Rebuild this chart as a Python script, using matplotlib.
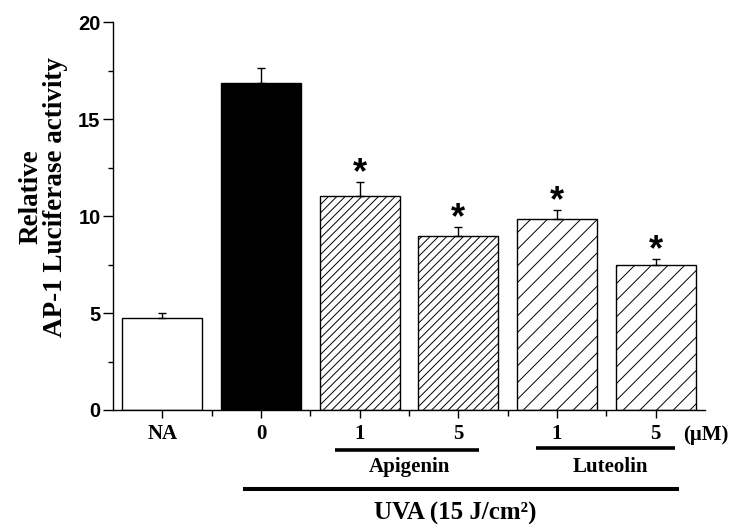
import numpy as np
import matplotlib.pyplot as plt
import matplotlib.transforms as mtransforms
from matplotlib.ticker import MultipleLocator

# data
groups = ['NA', '0', '1', '5', '1', '5']
values = [4.73, 16.84, 11.03, 8.97, 9.83, 7.47]
errors = [0.25, 0.79, 0.72, 0.46, 0.46, 0.31]
signif = [False, False, True, True, True, True]

faces = ['white', 'black', 'white', 'white', 'white', 'white']
hatches = [None, None, '////', '////', '//', '//']

plt.rcParams['hatch.linewidth'] = 0.7
plt.rcParams['hatch.color'] = '#222222'

SERIF = 'Liberation Serif'
SANS = 'Liberation Sans'

fig = plt.figure(figsize=(7.3, 5.24), dpi=100)
ax = fig.add_axes([0.1548, 0.2176, 0.811, 0.740])

x = np.arange(len(groups))
bars = ax.bar(x, values, width=0.81, color=faces, edgecolor='black', linewidth=1.0)
for b, h in zip(bars, hatches):
    if h:
        b.set_hatch(h)

ax.errorbar(x, values, yerr=[np.zeros(len(errors)), errors], fmt='none',
            ecolor='black', elinewidth=1.0, capsize=3, capthick=1.0)

# significance stars
for xi, v, e, s in zip(x, values, errors, signif):
    if s:
        ax.text(xi, v + e - 0.05, '*', ha='center', va='baseline',
                fontsize=26, fontweight='bold', family=SANS)

ax.set_xlim(-0.5, 5.5)
ax.set_ylim(0, 20)
ax.spines['top'].set_visible(False)
ax.spines['right'].set_visible(False)
ax.spines['left'].set_linewidth(1.0)
ax.spines['bottom'].set_linewidth(1.0)

ax.yaxis.set_major_locator(MultipleLocator(5))
ax.yaxis.set_minor_locator(MultipleLocator(2.5))
ax.set_xticks(x)
ax.set_xticks(x[:-1] + 0.5, minor=True)
ax.set_xticklabels(groups, fontsize=15, fontweight='bold', family=SERIF)
ax.tick_params(axis='x', which='major', length=6, width=1, pad=4)
ax.tick_params(axis='x', which='minor', length=4.3, width=1)
ax.tick_params(axis='y', which='major', length=7, width=1, pad=2, labelsize=14.5)
ax.tick_params(axis='y', which='minor', length=3.6, width=1)
for lab in ax.get_yticklabels():
    lab.set_fontweight('bold')
    lab.set_family(SANS)

fig.text(43.5 / 730, 1 - 197 / 524, 'Relative\nAP-1 Luciferase activity',
         rotation=90, ha='center', va='center', multialignment='center',
         fontsize=19.5, fontweight='bold', family=SERIF, linespacing=0.95)

# group annotations under the axis
trans = mtransforms.blended_transform_factory(ax.transData, ax.transAxes)
ax.text(5.51, -0.064, '(μM)', transform=trans, ha='center', va='center',
        fontsize=15, fontweight='bold', family=SERIF, clip_on=False)

ax.plot([1.754, 3.21], [-0.102, -0.102], transform=trans, color='black', lw=2.6,
        clip_on=False, solid_capstyle='butt')
ax.text(2.5, -0.146, 'Apigenin', transform=trans, ha='center', va='center',
        fontsize=15, fontweight='bold', family=SERIF)
ax.plot([3.79, 5.20], [-0.099, -0.099], transform=trans, color='black', lw=2.6,
        clip_on=False, solid_capstyle='butt')
ax.text(4.54, -0.146, 'Luteolin', transform=trans, ha='center', va='center',
        fontsize=15, fontweight='bold', family=SERIF)

ax.plot([0.82, 5.24], [-0.204, -0.204], transform=trans, color='black', lw=2.9,
        clip_on=False, solid_capstyle='butt')
ax.text(2.97, -0.2835, 'UVA (15 J/cm²)', transform=trans, ha='center', va='baseline',
        fontsize=18, fontweight='bold', family=SERIF)

fig.savefig('out.png', dpi=100)
